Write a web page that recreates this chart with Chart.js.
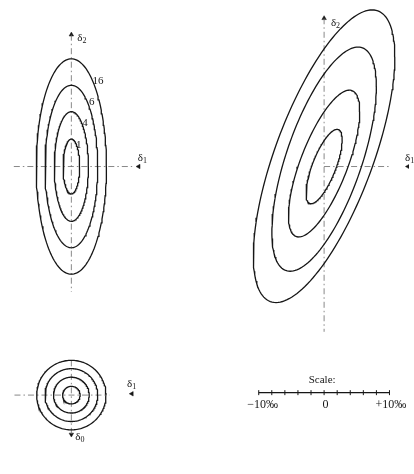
<!DOCTYPE html>
<html>
<head>
<meta charset="utf-8">
<script src="https://cdn.jsdelivr.net/npm/chart.js@4/dist/chart.umd.min.js"></script>
<style>
  html, body { margin: 0; padding: 0; background: #fff; }
  #wrap { position: relative; width: 414px; height: 474px; }
  canvas { display: block; }
</style>
</head>
<body>
<div id="wrap"><canvas id="c" width="414" height="474"></canvas></div>
<script>
// Contour levels written beside the independent-error ellipses
const levelLabels = ['1', '4', '6', '16'];

// Equal, independent errors: contour radii (‰)
const circleRadius = [1.34, 2.73, 4.03, 5.30];

// Independent errors, δ2 much larger than δ1: half-width / half-height (‰)
const indepHalfX = [1.27, 2.61, 4.03, 5.37];
const indepHalfY = [4.18, 8.36, 12.39, 16.42];

// Correlated errors: half-width, half-height (‰), correlation, centre shift along δ2 (‰)
const corrHalfX = [2.76, 5.45, 7.99, 10.82];
const corrHalfY = [5.67, 11.19, 17.09, 22.31];
const corrRho   = [0.72, 0.71, 0.65, 0.68];
const corrShift = [0.00, 0.45, 1.12, 1.57];

// Scale bar ticks (‰) and the ones that carry a label
const scaleTicks = [-10, -8, -6, -4, -2, 0, 2, 4, 6, 8, 10];
const scaleTickLabels = { '-10': '\u221210\u2030', '0': '0', '10': '+10\u2030' };

// ---- layout (data units are ‰, same on both axes) ----
const PX = 6.7;                 // pixels per ‰
const W = 414, H = 474;
const ORIGIN_PX = { x: 68, y: 165 };
const RIGHT_X = (327 - 68) / PX;     // centre of the correlated panel
const LOW_Y = -(398.5 - 165) / PX;   // centre of the circular panel
const BAR_Y = -(396 - 165) / PX;     // scale bar

const INK = '#161616';
const AXIS = '#6a6a6a';
const SERIF = '"Liberation Serif", "DejaVu Serif", serif';

function ellipse(cx, cy, hx, hy, rho) {
  const pts = [];
  const n = 160, s = Math.sqrt(1 - rho * rho);
  for (let i = 0; i <= n; i++) {
    const t = 2 * Math.PI * i / n;
    pts.push({ x: cx + hx * Math.cos(t), y: cy + hy * (rho * Math.cos(t) + s * Math.sin(t)) });
  }
  return pts;
}

function contour(pts) {
  return { data: pts, showLine: true, borderColor: INK, borderWidth: 1.3,
           pointRadius: 0, fill: false, tension: 0 };
}
function axisLine(pts) {
  return { data: pts, showLine: true, borderColor: AXIS, borderWidth: 0.8,
           borderDash: [6, 3, 1.5, 3], pointRadius: 0, fill: false };
}
function arrow(x, y, rot) {
  return { data: [{ x, y }], showLine: false, pointStyle: 'triangle', pointRadius: 2.6,
           rotation: rot, backgroundColor: INK, borderColor: INK, borderWidth: 0.5 };
}

const datasets = [];

// independent errors (top left)
indepHalfX.forEach((hx, i) => datasets.push(contour(ellipse(0, 0, hx, indepHalfY[i], 0))));
// correlated errors (top right)
corrHalfX.forEach((hx, i) => datasets.push(contour(ellipse(RIGHT_X, corrShift[i], hx, corrHalfY[i], corrRho[i]))));
// equal errors (bottom left)
circleRadius.forEach(r => datasets.push(contour(ellipse(0, LOW_Y, r, r, 0))));

// coordinate axes
datasets.push(axisLine([{ x: 0, y: 20.1 }, { x: 0, y: -19.1 }]));
datasets.push(axisLine([{ x: -8.8, y: 0 }, { x: 9.3, y: 0 }]));
datasets.push(axisLine([{ x: RIGHT_X, y: 22.6 }, { x: RIGHT_X, y: -25.2 }]));
datasets.push(axisLine([{ x: RIGHT_X, y: 0 }, { x: RIGHT_X + 10.1, y: 0 }]));
datasets.push(axisLine([{ x: -8.7, y: LOW_Y }, { x: 5.8, y: LOW_Y }]));
datasets.push(axisLine([{ x: 0, y: LOW_Y + 5.3 }, { x: 0, y: LOW_Y - 6.0 }]));

// arrow heads
datasets.push(arrow(0, 20.1, 0));
datasets.push(arrow(RIGHT_X, 22.6, 0));
datasets.push(arrow(0, LOW_Y - 6.0, 180));
datasets.push(arrow((137 - 68) / PX, 0, 270));
datasets.push(arrow((130 - 68) / PX, LOW_Y + 0.2, 270));
datasets.push(arrow((413 - 68) / PX, 0, 270));

// scale bar
datasets.push({ data: [{ x: RIGHT_X - 10, y: BAR_Y }, { x: RIGHT_X + 10, y: BAR_Y }],
                showLine: true, borderColor: INK, borderWidth: 1.1, pointRadius: 0 });
datasets.push({ data: scaleTicks.map(t => ({ x: RIGHT_X + t, y: BAR_Y })), showLine: false,
                pointStyle: 'line', rotation: 90, pointRadius: 2.5, borderColor: INK, borderWidth: 1 });

// text drawn at data positions
const labelPlugin = {
  id: 'labels',
  afterDatasetsDraw(chart) {
    const { ctx, scales: { x, y } } = chart;
    const px = v => x.getPixelForValue(v), py = v => y.getPixelForValue(v);
    ctx.save();
    ctx.fillStyle = INK;
    ctx.textBaseline = 'middle';

    function delta(sub, xv, yv) {
      ctx.textAlign = 'left';
      ctx.font = '11px ' + SERIF;
      const w = ctx.measureText('δ').width;
      const left = px(xv);
      ctx.fillText('δ', left, py(yv));
      ctx.font = '8px ' + SERIF;
      ctx.fillText(sub, left + w, py(yv) + 3);
    }

    delta('2', 6 / PX, 20.1 - 0.5);
    delta('1', (136 - 68) / PX, 1.3);
    delta('2', RIGHT_X + 7 / PX, 22.6 - 0.7);
    delta('1', (410 - 68) / PX, 1.3);
    delta('1', (125 - 68) / PX, LOW_Y + 1.7);
    delta('0', 4 / PX, LOW_Y - 6.4);

    // contour levels
    ctx.font = '11px ' + SERIF;
    ctx.textAlign = 'center';
    levelLabels.forEach((lab, i) => {
      const lx = indepHalfX[i] * 0.72 + 0.2;
      const ly = indepHalfY[i] * 0.79;
      ctx.fillText(lab, px(lx), py(ly));
    });

    // scale bar caption and labels
    ctx.font = '11px ' + SERIF;
    ctx.fillText('Scale:', px(RIGHT_X - 0.3), py(BAR_Y) - 13);
    ctx.font = '12px ' + SERIF;
    scaleTicks.forEach(t => {
      const lab = scaleTickLabels[String(t)];
      if (lab) ctx.fillText(lab, px(RIGHT_X + t + (t < 0 ? 0.6 : 0.2)), py(BAR_Y) + 12);
    });
    ctx.restore();
  }
};

new Chart(document.getElementById('c'), {
  type: 'scatter',
  data: { datasets },
  options: {
    responsive: false,
    animation: false,
    events: [],
    layout: { padding: 0 },
    plugins: { legend: { display: false }, tooltip: { enabled: false }, title: { display: false } },
    scales: {
      x: { type: 'linear', display: false, min: -ORIGIN_PX.x / PX, max: (W - ORIGIN_PX.x) / PX },
      y: { type: 'linear', display: false, min: -(H - ORIGIN_PX.y) / PX, max: ORIGIN_PX.y / PX }
    }
  },
  plugins: [labelPlugin]
});
</script>
</body>
</html>
